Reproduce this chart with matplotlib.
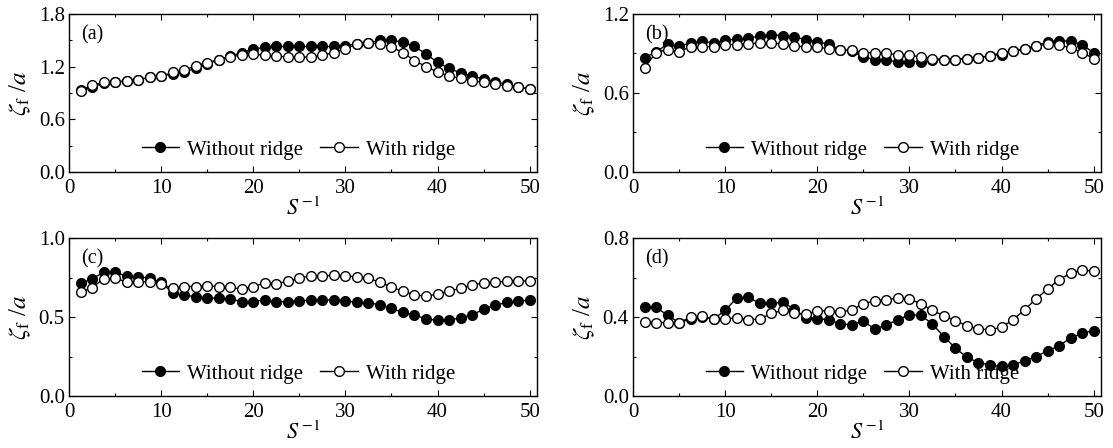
import numpy as np
import matplotlib
matplotlib.use("Agg")
import matplotlib.pyplot as plt
from matplotlib.ticker import MultipleLocator, FormatStrFormatter

plt.rcParams["font.family"] = ["Liberation Serif", "DejaVu Serif"]
plt.rcParams["mathtext.fontset"] = "stix"

# inverse slope S^-1, 40 samples per curve
s_inv = [1.25 * k for k in range(1, 41)]

# (a)
a_without = [0.93, 0.97, 1.01, 1.02, 1.04, 1.05, 1.08, 1.09, 1.12, 1.14,
             1.18, 1.23, 1.28, 1.32, 1.36, 1.40, 1.42, 1.43, 1.43, 1.43,
             1.43, 1.43, 1.43, 1.44, 1.46, 1.47, 1.50, 1.50, 1.48, 1.43,
             1.345, 1.25, 1.18, 1.13, 1.09, 1.06, 1.03, 1.00, 0.97, 0.945]
a_with = [0.927, 0.99, 1.02, 1.02, 1.04, 1.05, 1.08, 1.09, 1.135, 1.16,
          1.21, 1.245, 1.28, 1.315, 1.33, 1.34, 1.33, 1.32, 1.31, 1.31,
          1.31, 1.33, 1.36, 1.405, 1.455, 1.47, 1.46, 1.425, 1.36, 1.27,
          1.20, 1.14, 1.09, 1.07, 1.04, 1.02, 1.00, 0.98, 0.965, 0.945]

# (b)
b_without = [0.869, 0.91, 0.973, 0.955, 0.98, 0.993, 0.98, 1.00, 1.01, 1.016,
             1.033, 1.043, 1.036, 1.026, 1.005, 0.99, 0.97, 0.93, 0.917, 0.874,
             0.854, 0.849, 0.836, 0.836, 0.839, 0.849, 0.854, 0.854, 0.862, 0.869,
             0.88, 0.892, 0.917, 0.932, 0.958, 0.988, 0.995, 0.995, 0.968, 0.905]
b_with = [0.793, 0.907, 0.93, 0.912, 0.953, 0.95, 0.953, 0.968, 0.968, 0.97,
          0.983, 0.983, 0.97, 0.955, 0.953, 0.947, 0.937, 0.93, 0.925, 0.907,
          0.905, 0.90, 0.892, 0.887, 0.874, 0.862, 0.854, 0.854, 0.862, 0.869,
          0.884, 0.905, 0.92, 0.937, 0.96, 0.97, 0.962, 0.945, 0.907, 0.862]

# (c)
c_without = [0.715, 0.74, 0.784, 0.784, 0.757, 0.753, 0.748, 0.719, 0.653, 0.638,
             0.628, 0.619, 0.619, 0.613, 0.598, 0.598, 0.609, 0.594, 0.598, 0.600,
             0.609, 0.609, 0.607, 0.603, 0.592, 0.588, 0.579, 0.554, 0.529, 0.51,
             0.49, 0.478, 0.48, 0.495, 0.512, 0.55, 0.575, 0.592, 0.603, 0.605]
c_with = [0.657, 0.685, 0.742, 0.744, 0.723, 0.723, 0.723, 0.708, 0.683, 0.693,
          0.693, 0.696, 0.693, 0.687, 0.677, 0.693, 0.715, 0.712, 0.725, 0.746,
          0.761, 0.761, 0.763, 0.761, 0.753, 0.744, 0.721, 0.689, 0.662, 0.641,
          0.63, 0.647, 0.662, 0.683, 0.702, 0.715, 0.721, 0.725, 0.729, 0.727]

# (d)
d_without = [0.453, 0.45, 0.408, 0.372, 0.39, 0.399, 0.39, 0.433, 0.496, 0.499,
             0.47, 0.47, 0.474, 0.44, 0.397, 0.392, 0.386, 0.366, 0.36, 0.38,
             0.338, 0.36, 0.386, 0.411, 0.409, 0.364, 0.301, 0.242, 0.196, 0.169,
             0.157, 0.152, 0.157, 0.178, 0.20, 0.228, 0.255, 0.293, 0.318, 0.331]
d_with = [0.377, 0.372, 0.372, 0.372, 0.399, 0.403, 0.39, 0.39, 0.397, 0.387,
          0.389, 0.418, 0.433, 0.42, 0.414, 0.431, 0.431, 0.425, 0.436, 0.467,
          0.482, 0.487, 0.496, 0.492, 0.467, 0.433, 0.406, 0.382, 0.355, 0.34,
          0.335, 0.348, 0.386, 0.436, 0.492, 0.541, 0.589, 0.622, 0.639, 0.631]

panels = [
    ("(a)", a_without, a_with, 1.8, 0.6),
    ("(b)", b_without, b_with, 1.2, 0.6),
    ("(c)", c_without, c_with, 1.0, 0.5),
    ("(d)", d_without, d_with, 0.8, 0.4),
]

W, H = 1113, 448
fig = plt.figure(figsize=(W / 100, H / 100), dpi=100)

# axes boxes in pixels: left, top, right, bottom
boxes = [
    (69, 14, 537, 172),
    (633, 14, 1101, 172),
    (69, 238, 537, 396),
    (633, 238, 1101, 396),
]

for (tag, yw, yr, ymax, ystep), (l, t, r, b) in zip(panels, boxes):
    ax = fig.add_axes([l / W, 1 - b / H, (r - l) / W, (b - t) / H])
    ax.plot(s_inv, yw, "-o", color="black", mfc="black", mec="black",
            ms=7, lw=1, label="Without ridge")
    ax.plot(s_inv, yr, "-o", color="black", mfc="white", mec="black",
            ms=7, lw=1, mew=1, label="With ridge")
    ax.set_xlim(0, 50.8)
    ax.set_ylim(0, ymax)
    ax.xaxis.set_major_locator(MultipleLocator(10))
    ax.xaxis.set_minor_locator(MultipleLocator(5))
    ax.yaxis.set_major_locator(MultipleLocator(ystep))
    ax.yaxis.set_minor_locator(MultipleLocator(ystep / 2))
    ax.yaxis.set_major_formatter(FormatStrFormatter("%.1f"))
    ax.tick_params(which="both", direction="in", top=True, right=True,
                   labelsize=15, width=0.8)
    ax.tick_params(axis="x", pad=5)
    ax.tick_params(axis="y", pad=3)
    ax.tick_params(which="major", length=4)
    ax.tick_params(which="minor", length=2)
    for sp in ax.spines.values():
        sp.set_linewidth(1)
    ax.set_xlabel(r"$S^{\,\mathrm{-1}}$", fontsize=16, labelpad=0)
    ax.set_ylabel(r"$\zeta_{\mathrm{f}}$ /$a$", fontsize=18, labelpad=4)
    ax.text(0.025, 0.93, tag, transform=ax.transAxes, fontsize=14.5,
            va="top", ha="left")
    ax.legend(loc="center", bbox_to_anchor=(0.49, 0.14), ncol=2,
              frameon=False, fontsize=15, handlelength=1.8,
              handletextpad=0.4, columnspacing=0.8, borderpad=0)

fig.savefig("out.png", dpi=100)
